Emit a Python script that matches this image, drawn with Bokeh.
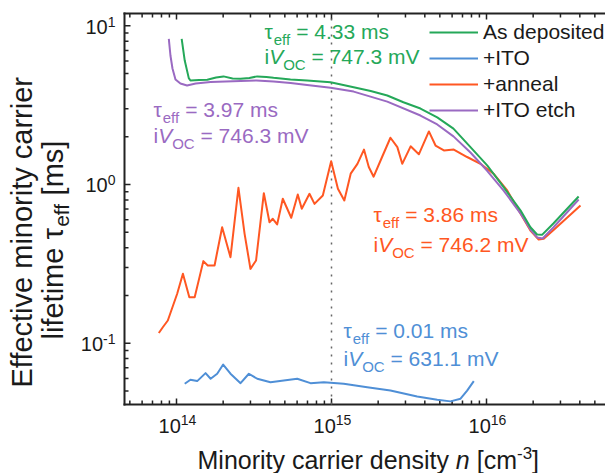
from math import pi, log10
from bokeh.plotting import figure
from bokeh.models import Label, Legend, LegendItem
from bokeh.embed import file_html
from bokeh.resources import INLINE

FONT = "Liberation Sans"
NB = "\u00a0"

# ---------------- data ----------------
asdep_n = [1.08e14, 1.13e14, 1.20e14, 1.23e14, 1.40e14, 1.58e14, 1.80e14, 2.01e14, 2.30e14,
           2.59e14, 2.95e14, 3.32e14, 3.80e14, 4.23e14, 5.44e14, 6.96e14, 9.86e14, 1.39e15,
           1.79e15, 2.29e15, 2.91e15, 3.75e15, 4.81e15, 6.12e15, 7.88e15, 1.01e16, 1.29e16,
           1.66e16, 1.92e16, 2.12e16, 2.29e16, 2.70e16, 3.93e16]
asdep_tau = [8.28, 6.04, 4.68, 4.52, 4.55, 4.57, 4.72, 4.80, 4.66, 4.64, 4.69, 4.80, 4.76, 4.70,
             4.59, 4.52, 4.41, 4.10, 3.88, 3.64, 3.30, 3.01, 2.65, 2.25, 1.72, 1.32, 0.962,
             0.686, 0.538, 0.484, 0.483, 0.568, 0.840]

ito_n = [1.13e14, 1.23e14, 1.36e14, 1.54e14, 1.66e14, 1.83e14, 2.00e14, 2.23e14, 2.59e14,
         2.93e14, 3.32e14, 4.04e14, 4.92e14, 6.01e14, 7.32e14, 8.92e14, 1.20e15, 1.70e15,
         2.40e15, 3.57e15, 4.81e15, 5.86e15, 6.80e15, 7.50e15, 8.28e15]
ito_tau = [0.0555, 0.0588, 0.0577, 0.0648, 0.0597, 0.0642, 0.0734, 0.0642, 0.0560, 0.0642,
           0.0597, 0.0568, 0.0582, 0.0597, 0.0560, 0.0568, 0.0555, 0.0528, 0.0503, 0.0461,
           0.0440, 0.0430, 0.0447, 0.0503, 0.0577]

anneal_n = [7.69e13, 8.16e13, 8.79e13, 1.01e14, 1.10e14, 1.21e14, 1.31e14, 1.49e14, 1.59e14,
            1.76e14, 1.97e14, 2.23e14, 2.51e14, 2.75e14, 3.00e14, 3.26e14, 3.66e14, 3.98e14,
            4.18e14, 4.46e14, 4.85e14, 5.50e14, 6.06e14, 6.43e14, 7.21e14, 7.77e14, 8.79e14,
            9.95e14, 1.10e15, 1.21e15, 1.33e15, 1.47e15, 1.62e15, 1.74e15, 1.87e15, 2.12e15,
            2.40e15, 2.66e15, 2.86e15, 3.24e15, 3.66e15, 4.25e15, 4.69e15, 5.31e15, 6.15e15,
            7.50e15, 9.14e15, 1.11e16, 1.36e16, 1.66e16, 1.92e16, 2.17e16, 2.34e16, 2.72e16,
            4.04e16]
anneal_tau = [0.116, 0.126, 0.139, 0.205, 0.274, 0.195, 0.195, 0.329, 0.309, 0.309, 0.538,
              0.348, 0.953, 0.489, 0.294, 0.332, 0.881, 0.578, 0.608, 0.560, 0.813, 0.617,
              0.865, 0.703, 0.874, 0.755, 0.853, 1.40, 0.940, 0.793, 1.17, 1.35, 1.66, 1.29,
              1.12, 1.49, 1.97, 1.72, 1.35, 1.74, 1.55, 2.16, 1.76, 1.64, 1.66, 1.49, 1.35,
              1.17, 0.917, 0.654, 0.513, 0.450, 0.455, 0.519, 0.738]

etch_n = [8.92e13, 9.14e13, 9.42e13, 9.85e13, 1.06e14, 1.17e14, 1.33e14, 1.66e14, 2.07e14,
          2.59e14, 3.28e14, 4.23e14, 5.44e14, 6.96e14, 9.86e14, 1.39e15, 2.29e15, 3.75e15,
          4.81e15, 6.12e15, 7.88e15, 1.01e16, 1.29e16, 1.66e16, 1.92e16, 2.12e16, 2.30e16,
          2.70e16, 3.93e16]
etch_tau = [8.28, 6.50, 5.38, 4.59, 4.33, 4.21, 4.33, 4.43, 4.46, 4.49, 4.52, 4.46, 4.36, 4.24,
            4.07, 3.85, 3.33, 2.72, 2.39, 2.01, 1.59, 1.22, 0.916, 0.656, 0.520, 0.464, 0.457,
            0.536, 0.804]

series_names = ["As deposited", "+ITO", "+anneal", "+ITO etch"]
ann_tau = ["4.33", "0.01", "3.86", "3.97"]
ann_voc = ["747.3", "631.1", "746.2", "746.3"]

x_major = [1e14, 1e15, 1e16]
x_major_exp = ["14", "15", "16"]
y_major = [0.1, 1.0, 10.0]
y_major_exp = ["-1", "0", "1"]
marker_n = 1e15

C_GR, C_BL, C_OR, C_PU = "#25a859", "#4f8fd6", "#ff5722", "#9a6ac2"
TXT = "#1a1a1a"
AX = "#222222"

# ---------------- geometry (canvas px) ----------------
W, H = 605, 473
FL, FR, FT, FB = 124, 605, 13, 404          # plotting box edges
X0P, XDEC = 176.0, 155.0                     # px of 1e14, px per decade
Y0P, YDEC = 25.3, 158.7                      # px of 1e1, px per decade
BASE_FIX = 0.36                              # label baseline correction (fraction of size)


def page_to_x(px):
    return 10 ** (14 + (px - X0P) / XDEC)


def page_to_y(py):
    return 10 ** (1 - (py - Y0P) / YDEC)


def x_to_page(x):
    return X0P + (log10(x) - 14) * XDEC


def y_to_page(y):
    return Y0P + (1 - log10(y)) * YDEC


WID = {' ': 278, NB: 278, '.': 278, '=': 584, '-': 333, '[': 278, ']': 278, 'a': 556,
       'c': 500, 'd': 556, 'e': 556, 'f': 278, 'h': 556, 'i': 222, 'l': 222, 'm': 833,
       'n': 556, 'o': 556, 'r': 333, 's': 500, 't': 278, 'v': 500, 'y': 500, 'E': 667,
       'M': 833, 'V': 667, 'O': 778, 'C': 722, 'τ': 440}


def tw(s, size):
    return sum(WID.get(ch, 556) for ch in s) / 1000.0 * size


p = figure(width=W, height=H, x_axis_type="log", y_axis_type="log",
           x_range=(page_to_x(0), page_to_x(W)), y_range=(page_to_y(H), page_to_y(0)),
           output_backend="svg", toolbar_location=None,
           min_border=0, min_border_left=0, min_border_right=0, min_border_top=0,
           min_border_bottom=0)
p.xaxis.visible = False
p.yaxis.visible = False
p.grid.visible = False
p.outline_line_color = None
p.background_fill_color = "white"
p.border_fill_color = "white"

# ---- axes drawn by hand (box with inward ticks on left, bottom, top) ----
xa, xb = page_to_x(FL), page_to_x(FR)
ya, yb = page_to_y(FB), page_to_y(FT)
p.segment(x0=[xa, xa, xa], y0=[ya, ya, yb], x1=[xa, xb, xb], y1=[yb, ya, yb],
          line_color=AX, line_width=2, line_cap="square")

x_minor = [float(k) * 10.0 ** e for e in range(13, 17) for k in range(2, 10)]
y_minor = [float(k) * 10.0 ** e for e in range(-2, 2) for k in range(2, 10)]
xm = [v for v in x_minor if FL < x_to_page(v) < FR]
ym = [v for v in y_minor if FT < y_to_page(v) < FB]

tx0, tx1, ty0, ty1 = [], [], [], []
for v in x_major:
    for base, d in ((FB, -6), (FT, 6)):
        tx0.append(v); tx1.append(v); ty0.append(page_to_y(base)); ty1.append(page_to_y(base + d))
for v in xm:
    for base, d in ((FB, -4), (FT, 4)):
        tx0.append(v); tx1.append(v); ty0.append(page_to_y(base)); ty1.append(page_to_y(base + d))
for v in y_major:
    tx0.append(page_to_x(FL)); tx1.append(page_to_x(FL + 6)); ty0.append(v); ty1.append(v)
for v in ym:
    tx0.append(page_to_x(FL)); tx1.append(page_to_x(FL + 4)); ty0.append(v); ty1.append(v)
p.segment(x0=tx0, y0=ty0, x1=tx1, y1=ty1, line_color=AX, line_width=1.5)

# dotted marker at n = 1e15
p.segment(x0=[marker_n], y0=[page_to_y(FB)], x1=[marker_n], y1=[page_to_y(FT)],
          line_color="#666666", line_dash="2 6", line_width=1.5)

r_or = p.line(anneal_n, anneal_tau, line_color=C_OR, line_width=2, line_join="round")
r_bl = p.line(ito_n, ito_tau, line_color=C_BL, line_width=2, line_join="round")
r_pu = p.line(etch_n, etch_tau, line_color=C_PU, line_width=2, line_join="round")
r_gr = p.line(asdep_n, asdep_tau, line_color=C_GR, line_width=2, line_join="round")

legend = Legend(items=[LegendItem(label=series_names[0], renderers=[r_gr]),
                       LegendItem(label=series_names[1], renderers=[r_bl]),
                       LegendItem(label=series_names[2], renderers=[r_or]),
                       LegendItem(label=series_names[3], renderers=[r_pu])],
                location=(429, H - 122), label_text_font=FONT, label_text_font_size="21px",
                label_text_color=TXT, glyph_width=49, glyph_height=24, label_height=24,
                label_standoff=5, spacing=2, padding=0, margin=0,
                background_fill_alpha=0, border_line_alpha=0)
p.add_layout(legend)


def rich(px, py, pieces, color, rotate=False):
    pos = 0.0
    for text, size, dy, italic in pieces:
        d = dy - BASE_FIX * size
        if rotate:
            x, y = px + d, py - pos
        else:
            x, y = px + pos, py + d
        p.add_layout(Label(x=page_to_x(x), y=page_to_y(y), text=text, text_font=FONT,
                           text_font_size=f"{size}px", text_color=color,
                           text_font_style="italic" if italic else "normal",
                           angle=pi / 2 if rotate else 0.0, text_align="left",
                           text_baseline="alphabetic"))
        pos += tw(text, size)


# tick labels
for xv, ex in zip(x_major, x_major_exp):
    total = tw("10", 20) + tw(ex, 14)
    rich(x_to_page(xv) - total / 2 + 1, 433, [("10", 20, 0, False), (ex, 14, -8, False)], TXT)
for yv, ex in zip(y_major, y_major_exp):
    total = tw("10", 20) + tw(ex, 14)
    rich(115 - total, y_to_page(yv) + 8, [("10", 20, 0, False), (ex, 14, -7, False)], TXT)

# axis titles
rich(197, 468, [("Minority carrier density", 25, 0, False), (NB + "n", 25, 0, True),
                (NB + "[cm", 25, 0, False), ("-3", 17, -9, False), ("]", 25, 0, False)], TXT)
rich(32, 387, [("Effective minority carrier", 29, 0, False)], TXT, rotate=True)
rich(63, 339, [("lifetime", 29, 0, False), (NB + "τ", 29, 0, False), ("eff", 21, 6, False),
               (NB + "[ms]", 29, 0, False)], TXT, rotate=True)

# annotations
ann_pos = [(264, 39, 64), (343, 338, 366), (373, 222, 252), (153, 117, 143)]
ann_col = [C_GR, C_BL, C_OR, C_PU]
for (ax_, y1, y2), t, v, c in zip(ann_pos, ann_tau, ann_voc, ann_col):
    rich(ax_, y1, [("τ", 21, 0, False), ("eff", 15, 5, False),
                   (NB + "=" + NB + t + NB + "ms", 21, 0, False)], c)
    rich(ax_, y2, [("i", 21, 0, False), ("V", 21, 0, True), ("OC", 15, 5, False),
                   (NB + "=" + NB + v + NB + "mV", 21, 0, False)], c)

open("out.html", "w").write(file_html(p, INLINE))
